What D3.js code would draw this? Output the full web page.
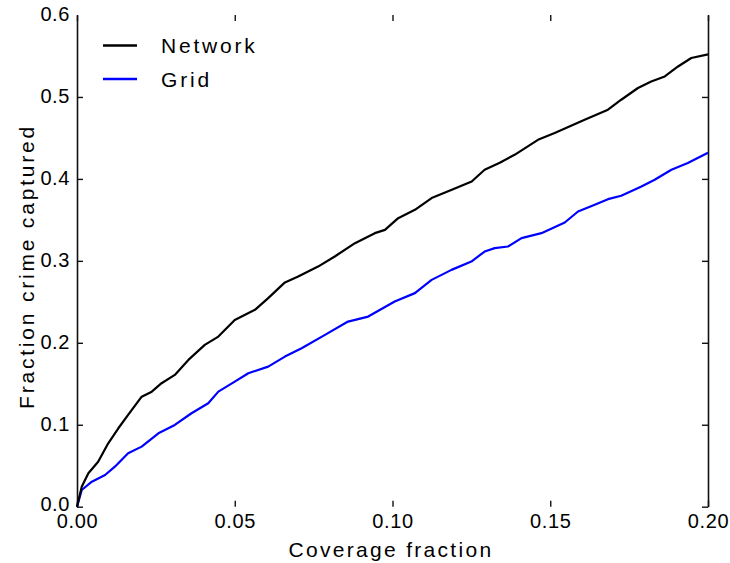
<!DOCTYPE html>
<html>
<head>
<meta charset="utf-8">
<script src="https://cdn.jsdelivr.net/npm/d3@7"></script>
<style>
  html, body { margin: 0; padding: 0; background: #fff; }
  svg { display: block; font-family: "Liberation Sans", Arial, Helvetica, sans-serif; }
</style>
</head>
<body>
<svg id="chart" width="730" height="563"></svg>
<script>
// Coverage fraction (x) and fraction of crime captured (y) for each method
const networkCoverage = [0, 0.0015, 0.0036, 0.0067, 0.0099, 0.0131, 0.0162, 0.0205, 0.0237, 0.0268,
  0.0310, 0.0353, 0.0405, 0.0448, 0.0500, 0.0564, 0.0606, 0.0659, 0.0701, 0.0764,
  0.0817, 0.0881, 0.0944, 0.0976, 0.1018, 0.1071, 0.1124, 0.1188, 0.1251, 0.1292,
  0.1340, 0.1387, 0.1461, 0.1514, 0.1609, 0.1683, 0.1725, 0.1778, 0.1820, 0.1863,
  0.1905, 0.1947, 0.2000];
const networkCaptured = [0, 0.0244, 0.0408, 0.0549, 0.0774, 0.0957, 0.1120, 0.1343, 0.1404, 0.1507,
  0.1608, 0.1791, 0.1974, 0.2076, 0.2279, 0.2402, 0.2545, 0.2737, 0.2808, 0.2930,
  0.3053, 0.3216, 0.3338, 0.3378, 0.3521, 0.3623, 0.3766, 0.3867, 0.3968, 0.4111,
  0.4197, 0.4294, 0.4477, 0.4559, 0.4722, 0.4844, 0.4966, 0.5109, 0.5189, 0.5250,
  0.5372, 0.5475, 0.5520];

const gridCoverage = [0, 0.0015, 0.0047, 0.0089, 0.0120, 0.0162, 0.0205, 0.0258, 0.0310, 0.0363,
  0.0416, 0.0448, 0.0500, 0.0543, 0.0606, 0.0659, 0.0712, 0.0786, 0.0859, 0.0923,
  0.1007, 0.1071, 0.1124, 0.1187, 0.1250, 0.1292, 0.1324, 0.1366, 0.1409, 0.1472,
  0.1546, 0.1588, 0.1641, 0.1683, 0.1725, 0.1789, 0.1831, 0.1884, 0.1936, 0.2000];
const gridCaptured = [0, 0.0204, 0.0305, 0.0387, 0.0488, 0.0652, 0.0733, 0.0896, 0.0998, 0.1140,
  0.1262, 0.1404, 0.1526, 0.1629, 0.1709, 0.1832, 0.1934, 0.2097, 0.2259, 0.2320,
  0.2503, 0.2606, 0.2768, 0.2890, 0.2991, 0.3114, 0.3155, 0.3175, 0.3277, 0.3338,
  0.3468, 0.3602, 0.3684, 0.3753, 0.3794, 0.3907, 0.3989, 0.4111, 0.4193, 0.4320];

const seriesNames = ["Network", "Grid"];
const seriesColors = ["#000000", "#0000ff"];

const xTicks = [0, 0.05, 0.10, 0.15, 0.20];
const yTicks = [0, 0.1, 0.2, 0.3, 0.4, 0.5, 0.6];
const xTitle = "Coverage fraction";
const yTitle = "Fraction crime captured";

const svg = d3.select("#chart");
const plotLeft = 77, plotRight = 708, plotTop = 15, plotBottom = 506.7;

const x = d3.scaleLinear().domain([0, 0.2]).range([plotLeft, plotRight]);
const y = d3.scaleLinear().domain([0, 0.6]).range([plotBottom, plotTop]);

const tickFont = g => g.selectAll("text")
  .attr("font-size", 20).attr("fill", "#000")
  .style("letter-spacing", "0.6px")
  .attr("font-family", "'Liberation Sans', Arial, sans-serif");

// Left spine with inward ticks and labels
const yAxisL = svg.append("g").attr("transform", `translate(${plotLeft},0)`)
  .call(d3.axisLeft(y).tickValues(yTicks).tickFormat(d3.format(".1f"))
    .tickSizeInner(-6).tickSizeOuter(0).tickPadding(7))
  .call(tickFont);
yAxisL.selectAll(".tick text").attr("dy", d => d === 0 ? "0.18em" : "0.28em");
// Right spine, ticks only
const yAxisR = svg.append("g").attr("transform", `translate(${plotRight},0)`)
  .call(d3.axisRight(y).tickValues(yTicks).tickFormat("")
    .tickSizeInner(-6).tickSizeOuter(0));
// Top ticks (no spine)
const xAxisT = svg.append("g").attr("transform", `translate(0,${plotTop})`)
  .call(d3.axisTop(x).tickValues(xTicks).tickFormat("")
    .tickSizeInner(-6).tickSizeOuter(0));
// Bottom ticks and labels (no spine)
const xAxisB = svg.append("g").attr("transform", `translate(0,${plotBottom})`)
  .call(d3.axisBottom(x).tickValues(xTicks).tickFormat(d3.format(".2f"))
    .tickSizeInner(-6).tickSizeOuter(0).tickPadding(7))
  .call(tickFont);

xAxisT.select(".domain").remove();
xAxisB.select(".domain").remove();
// the top y tick sits on the frame edge and is not drawn
[yAxisL, yAxisR].forEach(g => g.selectAll(".tick").filter(d => d === 0.6).select("line").remove());
[yAxisL, yAxisR, xAxisT, xAxisB].forEach(g => {
  g.selectAll(".domain").attr("stroke", "#111").attr("stroke-width", 1.6);
  g.selectAll(".tick line").attr("stroke", "#111").attr("stroke-width", 1.4);
});

// Curves
const series = [
  { name: seriesNames[0], color: seriesColors[0], pts: networkCoverage.map((c, i) => [c, networkCaptured[i]]) },
  { name: seriesNames[1], color: seriesColors[1], pts: gridCoverage.map((c, i) => [c, gridCaptured[i]]) }
];
const line = d3.line().x(d => x(d[0])).y(d => y(d[1]));
svg.append("g").selectAll("path").data(series.slice().reverse()).join("path")
  .attr("d", d => line(d.pts))
  .attr("fill", "none")
  .attr("stroke", d => d.color)
  .attr("stroke-width", 2.2)
  .attr("stroke-linejoin", "round");

// Legend
const legend = svg.append("g");
series.forEach((s, i) => {
  const ly = 45.5 + i * 33.5;
  legend.append("line").attr("x1", 103).attr("x2", 137).attr("y1", ly).attr("y2", ly)
    .attr("stroke", s.color).attr("stroke-width", 2.5);
  legend.append("text").attr("x", 161).attr("y", ly + 7.8)
    .attr("font-size", 21).style("letter-spacing", "2.8px").attr("fill", "#000")
    .text(s.name);
});

// Axis titles
svg.append("text").attr("x", 391).attr("y", 556.5).attr("text-anchor", "middle")
  .attr("font-size", 21).style("letter-spacing", "2.3px").attr("fill", "#000")
  .text(xTitle);
svg.append("text").attr("transform", "translate(34,266.5) rotate(-90)").attr("text-anchor", "middle")
  .attr("font-size", 21).style("letter-spacing", "2.8px").attr("fill", "#000")
  .text(yTitle);
</script>
</body>
</html>
